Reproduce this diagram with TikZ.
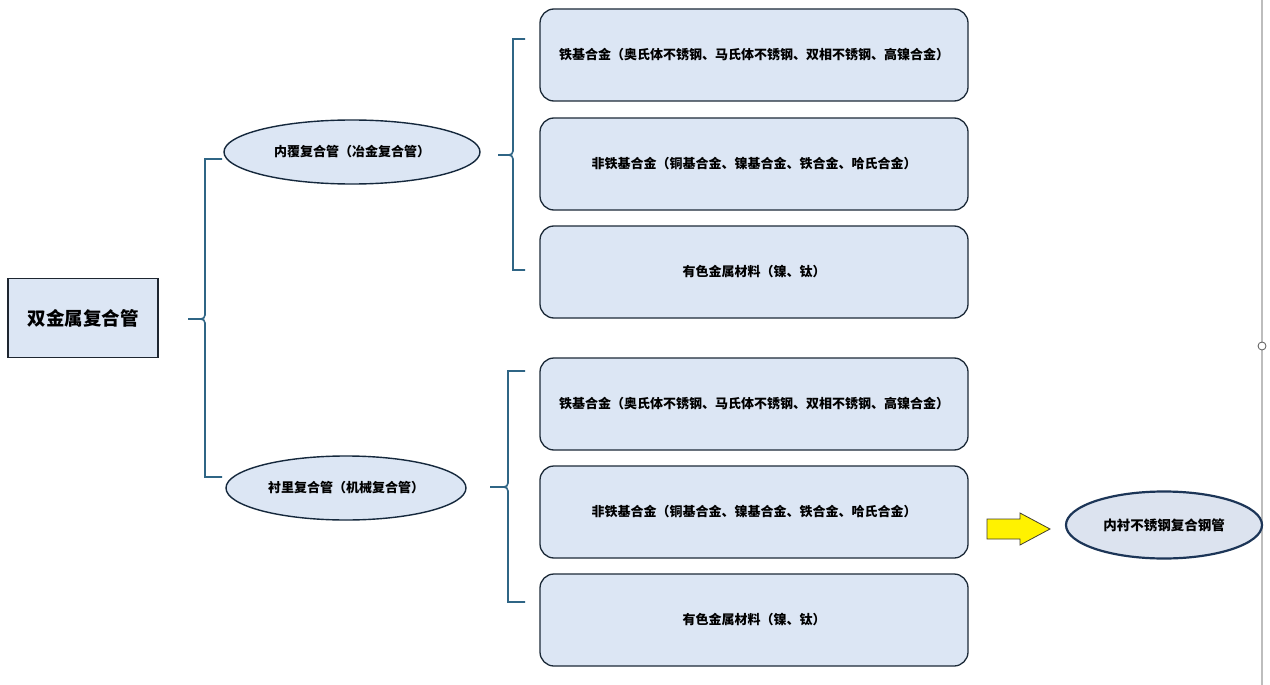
\documentclass[tikz,border=0pt]{standalone}
\usepackage{fontspec}
\usetikzlibrary{shapes.geometric}
\setmainfont{Noto Sans CJK SC}
\begin{document}
\begin{tikzpicture}[x=1pt,y=-1pt,
  rootbox/.style={draw=rootline,line width=1.3pt,fill=boxfill,minimum width=150pt,minimum height=79pt,inner sep=0pt,font=\fontsize{18.5}{20}\selectfont\bfseries},
  leafbox/.style={draw=leafline,line width=1.3pt,fill=boxfill,rounded corners=14pt,minimum width=428pt,minimum height=92pt,inner sep=0pt,font=\fontsize{13}{15}\selectfont\bfseries},
  midell/.style={ellipse,draw=ellline,line width=1.4pt,fill=boxfill,minimum width=256pt,minimum height=64pt,inner sep=0pt,font=\fontsize{13}{15}\selectfont\bfseries},
  endell/.style={ellipse,draw=navy,line width=2.2pt,fill=endfill,minimum width=196pt,minimum height=67pt,inner sep=0pt,font=\fontsize{13.5}{15}\selectfont\bfseries},
  bracket/.style={draw=bracecol,line width=1.6pt}
]
\definecolor{boxfill}{HTML}{DCE6F4}
\definecolor{endfill}{HTML}{DCE3EF}
\definecolor{rootline}{HTML}{1E2630}
\definecolor{leafline}{HTML}{1C2A38}
\definecolor{ellline}{HTML}{15283C}
\definecolor{navy}{HTML}{1C3557}
\definecolor{bracecol}{HTML}{2F6585}
\definecolor{gray1}{HTML}{BDBDBD}
\useasboundingbox (0,0) rectangle (1270,685);
\fill[white] (0,0) rectangle (1270,685);

% right guide line
\draw[gray1,line width=2.5pt] (1262,0) -- (1262,685);
\node[circle,draw=gray!70!black,fill=white,line width=0.8pt,minimum size=8pt,inner sep=0pt] (handle) at (1262,346) {};

% nodes
\node[rootbox] (root) at (83,318) {双金属复合管};
\node[midell] (e1) at (352,152) {内覆复合管（冶金复合管）};
\node[midell,minimum width=240pt] (e2) at (346,488) {衬里复合管（机械复合管）};

\node[leafbox] (a1) at (754,55) {铁基合金（奥氏体不锈钢、马氏体不锈钢、双相不锈钢、高镍合金）};
\node[leafbox] (a2) at (754,164) {非铁基合金（铜基合金、镍基合金、铁合金、哈氏合金）};
\node[leafbox] (a3) at (754,272) {有色金属材料（镍、钛）};
\node[leafbox] (b1) at (754,404) {铁基合金（奥氏体不锈钢、马氏体不锈钢、双相不锈钢、高镍合金）};
\node[leafbox] (b2) at (754,512) {非铁基合金（铜基合金、镍基合金、铁合金、哈氏合金）};
\node[leafbox] (b3) at (754,620) {有色金属材料（镍、钛）};

\node[endell] (end) at (1164,525) {内衬不锈钢复合钢管};

% brace 1: root -> e1, e2
\coordinate (t0) at (188,319);
\coordinate (t0a) at (222,159);
\coordinate (t0b) at (222,477);
\draw[bracket] (t0) -- ++(13,0) to[out=0,in=90] ++(4,4) |- (t0b);
\draw[bracket] (t0) ++(13,0) to[out=0,in=-90] ++(4,-4) |- (t0a);

% brace 2: e1 -> a1..a3
\coordinate (t1) at (498,155);
\coordinate (t1a) at (525,39);
\coordinate (t1b) at (525,270);
\draw[bracket] (t1) -- ++(11,0) to[out=0,in=-90] ++(4,-4) |- (t1a);
\draw[bracket] (t1) ++(11,0) to[out=0,in=90] ++(4,4) |- (t1b);

% brace 3: e2 -> b1..b3
\coordinate (t2) at (490,487);
\coordinate (t2a) at (525,371);
\coordinate (t2b) at (525,602);
\draw[bracket] (t2) -- ++(14,0) to[out=0,in=-90] ++(4,-4) |- (t2a);
\draw[bracket] (t2) ++(14,0) to[out=0,in=90] ++(4,4) |- (t2b);

% yellow arrow
\coordinate (ar) at (987,529);
\draw[draw=black!70!olive,fill=yellow,line width=0.8pt,line join=miter]
  (ar) ++(0,-10) -- ++(33,0) -- ++(0,-6) -- ++(30,16) -- ++(-30,16) -- ++(0,-6) -- ++(-33,0) -- cycle;
\end{tikzpicture}
\end{document}
